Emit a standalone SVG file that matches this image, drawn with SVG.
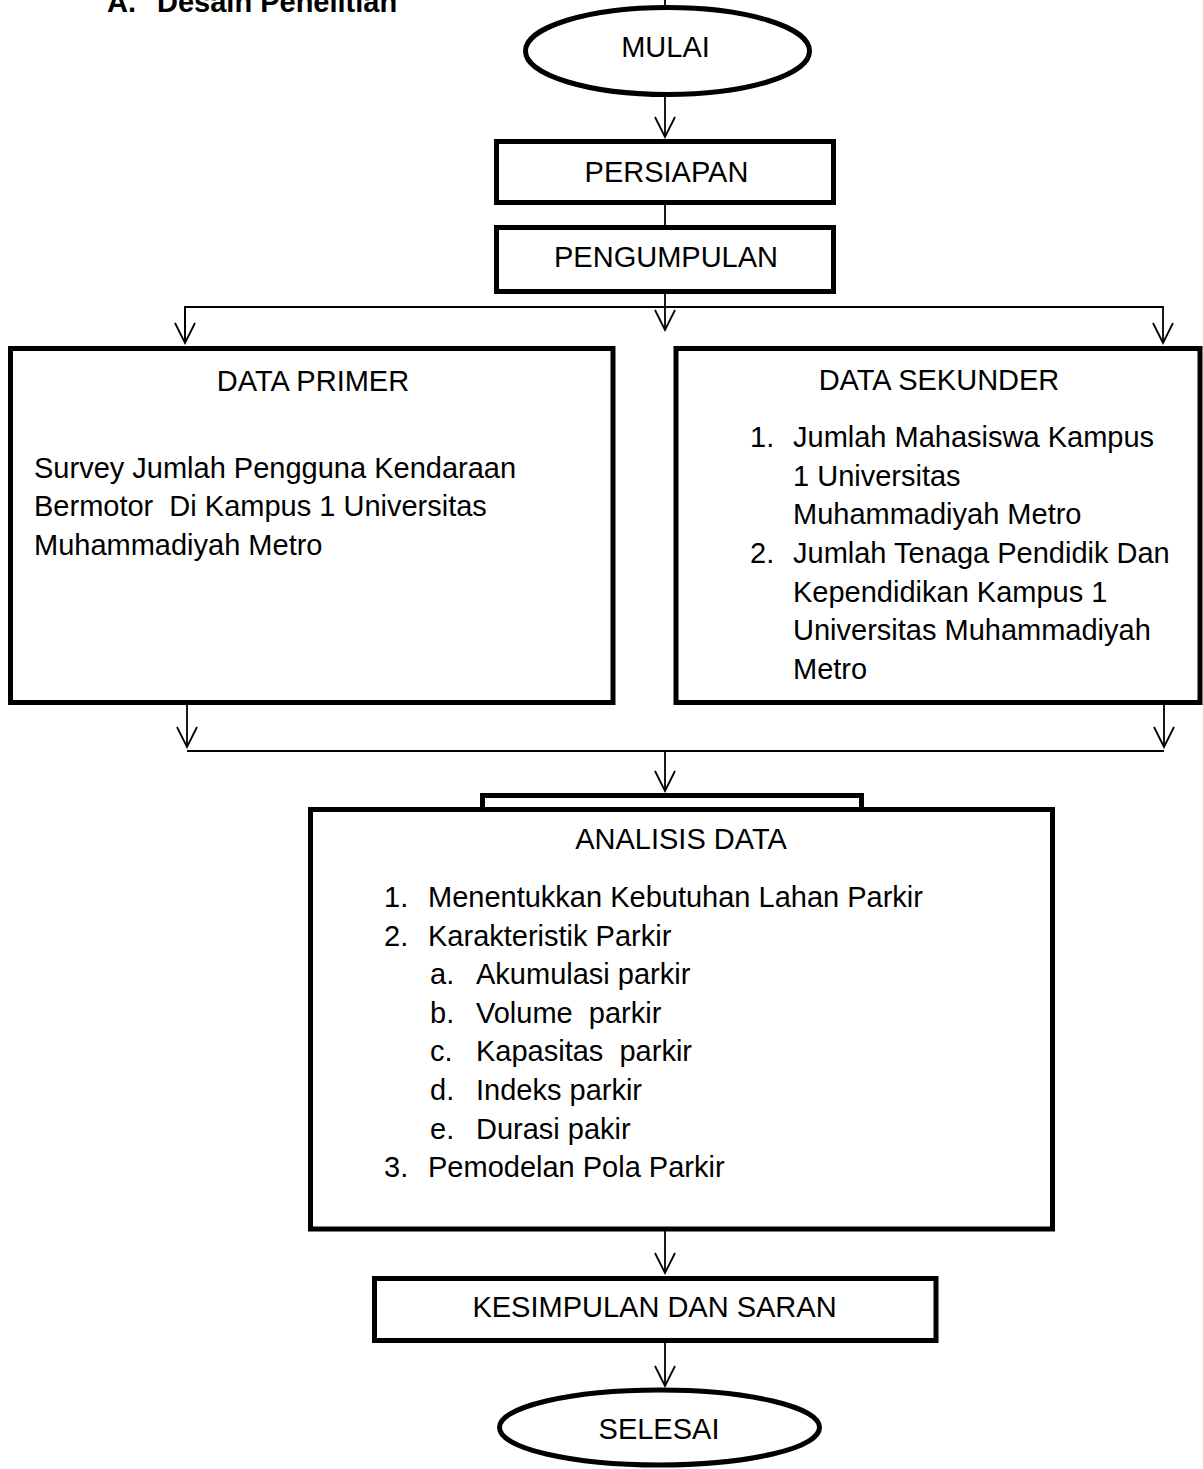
<svg xmlns="http://www.w3.org/2000/svg" width="1203" height="1469" viewBox="0 0 1203 1469" xml:space="preserve">
<style>
  text { font-family: "Liberation Sans", Arial, sans-serif; font-size: 29px; fill: #000; white-space: pre; }
  .c { text-anchor: middle; }
  .h { font-weight: bold; }
  .box { fill: #fff; stroke: #000; stroke-width: 5; }
  .conn { fill: none; stroke: #000; stroke-width: 1.8; }
</style>
<defs>
  <marker id="arr" markerUnits="userSpaceOnUse" markerWidth="30" markerHeight="30" refX="0" refY="0" orient="auto" overflow="visible" viewBox="-25 -15 30 30">
    <path d="M-20,-10 L0,0 L-20,10" fill="none" stroke="#000" stroke-width="1.8"/>
  </marker>
</defs>
<rect width="1203" height="1469" fill="#fff"/>

<g id="heading">
  <text class="h" x="107" y="12">A.</text>
  <text class="h" x="157" y="12">Desain Penelitian</text>
</g>

<g id="connectors">
  <line class="conn" x1="665" y1="0" x2="665" y2="6"/>
  <line class="conn" x1="665" y1="92" x2="665" y2="137" marker-end="url(#arr)"/>
  <line class="conn" x1="665" y1="204" x2="665" y2="226"/>
  <line class="conn" x1="665" y1="293" x2="665" y2="330" marker-end="url(#arr)"/>
  <polyline class="conn" points="185,343 185,307 1163,307 1163,343" marker-end="url(#arr)"/>
  <line class="conn" x1="185" y1="307" x2="185" y2="343" marker-end="url(#arr)"/>
  <line class="conn" x1="187" y1="704" x2="187" y2="747" marker-end="url(#arr)"/>
  <line class="conn" x1="1164" y1="704" x2="1164" y2="747" marker-end="url(#arr)"/>
  <line class="conn" x1="187" y1="751" x2="1164" y2="751"/>
  <line class="conn" x1="665" y1="751" x2="665" y2="791" marker-end="url(#arr)"/>
  <line class="conn" x1="665" y1="1231" x2="665" y2="1273" marker-end="url(#arr)"/>
  <line class="conn" x1="665" y1="1342" x2="665" y2="1386" marker-end="url(#arr)"/>
</g>

<g id="mulai">
  <ellipse class="box" cx="667.5" cy="51" rx="142" ry="43.5"/>
  <text class="c" x="665.5" y="57">MULAI</text>
</g>

<g id="persiapan">
  <rect class="box" x="496.5" y="141.5" width="337" height="61"/>
  <text class="c" x="666.5" y="182">PERSIAPAN</text>
</g>

<g id="pengumpulan">
  <rect class="box" x="496.5" y="227.5" width="337" height="64"/>
  <text class="c" x="666" y="267">PENGUMPULAN</text>
</g>

<g id="data-primer">
  <rect class="box" x="10.5" y="348.5" width="602.5" height="354"/>
  <text class="c" x="313" y="391">DATA PRIMER</text>
  <text x="34" y="478">Survey Jumlah Pengguna Kendaraan</text>
  <text x="34" y="516">Bermotor  Di Kampus 1 Universitas</text>
  <text x="34" y="555">Muhammadiyah Metro</text>
</g>

<g id="data-sekunder">
  <rect class="box" x="676" y="348.5" width="524" height="354"/>
  <text class="c" x="939" y="390">DATA SEKUNDER</text>
  <text x="750" y="447">1.</text>
  <text x="793" y="447">Jumlah Mahasiswa Kampus</text>
  <text x="793" y="486">1 Universitas</text>
  <text x="793" y="524">Muhammadiyah Metro</text>
  <text x="750" y="563">2.</text>
  <text x="793" y="563">Jumlah Tenaga Pendidik Dan</text>
  <text x="793" y="602">Kependidikan Kampus 1</text>
  <text x="793" y="640">Universitas Muhammadiyah</text>
  <text x="793" y="679">Metro</text>
</g>

<g id="analisis-data">
  <rect class="box" x="482.5" y="795.5" width="379" height="20"/>
  <rect class="box" x="310.5" y="809.5" width="742" height="419.5"/>
  <text class="c" x="681" y="849">ANALISIS DATA</text>
  <text x="384" y="907">1.</text>
  <text x="428" y="907">Menentukkan Kebutuhan Lahan Parkir</text>
  <text x="384" y="946">2.</text>
  <text x="428" y="946">Karakteristik Parkir</text>
  <text x="430" y="984">a.</text>
  <text x="476" y="984">Akumulasi parkir</text>
  <text x="430" y="1023">b.</text>
  <text x="476" y="1023">Volume  parkir</text>
  <text x="430" y="1061">c.</text>
  <text x="476" y="1061">Kapasitas  parkir</text>
  <text x="430" y="1100">d.</text>
  <text x="476" y="1100">Indeks parkir</text>
  <text x="430" y="1139">e.</text>
  <text x="476" y="1139">Durasi pakir</text>
  <text x="384" y="1177">3.</text>
  <text x="428" y="1177">Pemodelan Pola Parkir</text>
</g>

<g id="kesimpulan">
  <rect class="box" x="374.5" y="1278.5" width="561.5" height="62"/>
  <text class="c" x="654.5" y="1317">KESIMPULAN DAN SARAN</text>
</g>

<g id="selesai">
  <ellipse class="box" cx="659.5" cy="1427.5" rx="160" ry="37.5"/>
  <text class="c" x="659" y="1439">SELESAI</text>
</g>
</svg>
